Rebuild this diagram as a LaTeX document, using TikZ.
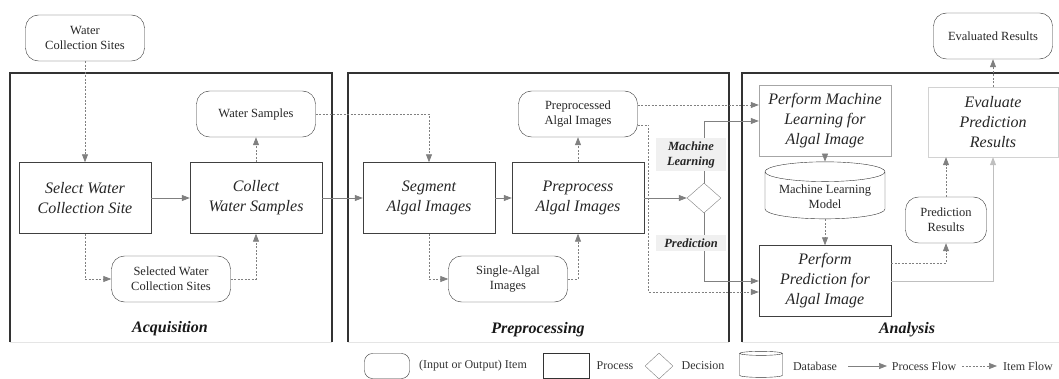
\documentclass[tikz,border=0pt]{standalone}
\usepackage{fontspec}
\setmainfont{Liberation Serif}
\usepackage{tikz}
\usetikzlibrary{arrows.meta, calc, positioning, shapes.geometric}

\tikzset{
  item/.style={draw=black!80, rounded corners=13pt, minimum width=119pt, minimum height=46pt, align=center, inner sep=1pt, font=\fontsize{12.5}{15}\selectfont, text=black!85},
  proc/.style={draw=black!75, minimum width=132pt, minimum height=71pt, align=center, font=\fontsize{16}{20}\selectfont\itshape, text=black!85},
  dbase/.style={draw=black!80, cylinder, shape border rotate=90, aspect=0.2, align=center, font=\fontsize{12.5}{15}\selectfont, text=black!85},
  decide/.style={draw=gray, diamond, inner sep=0pt},
  panel/.style={draw=black!80, line width=1.1pt},
  flow/.style={draw=gray, line width=0.7pt, -{Triangle[length=8pt,width=6pt]}},
  itemflow/.style={flow, dash pattern=on 2pt off 1.5pt},
  choice/.style={fill=gray!12, minimum width=70pt, align=center, font=\fontsize{12.5}{15}\selectfont\bfseries\itshape, text=black!85},
  phase/.style={font=\fontsize{16}{19}\selectfont\bfseries\itshape, text=black!90},
  legend/.style={font=\fontsize{12}{14}\selectfont, text=black!80}
}

\begin{document}
\begin{tikzpicture}[x=1pt,y=-1pt]
    \useasboundingbox (0,0) rectangle (1059,379);
    \draw[gray!20] (10,342) -- (332,342) (348,342) -- (729,342) (742,342) -- (1059,342); %下端
    \draw[panel] (10,342) |- (332,73) -- (332,342); %取得
    \draw[panel] (348,342) |- (729,73) -- (729,342); %前処理
    \draw[panel] (742,342) |- (1059,73); %分析

    \node[item] (wcs) at (85,38) {Water\\Collection Sites};
    \node[proc] (sel) at (85,198) {Select Water\\Collection Site};
    \node[proc] (col) at (256,198) {Collect\\Water Samples};
    \node[item] (ws) at (256,114) {Water Samples};
    \node[item] (ssites) at (171,279) {Selected Water\\Collection Sites};
    \node[phase] (acq) at (170,329) {Acquisition};

    \node[proc] (seg) at (429,198) {Segment\\Algal Images};
    \node[proc] (pre) at (578,198) {Preprocess\\Algal Images};
    \node[item] (paimg) at (578,114) {Preprocessed\\Algal Images};
    \node[item] (single) at (508,279) {Single-Algal\\Images};
    \node[decide, minimum width=34pt, minimum height=30pt] (dec) at (704,198) {};
    \node[phase] (prep) at (538,330) {Preprocessing};

    \node[proc, draw=gray!70] (pml) at (825,121) {Perform Machine\\Learning for\\Algal Image};
    \node[dbase, minimum width=120pt, minimum height=56pt] (model) at (825,197) {Machine Learning\\Model};
    \node[proc] (ppred) at (825,281) {Perform\\Prediction for\\Algal Image};
    \node[proc, draw=gray!35, minimum width=130pt, minimum height=70pt] (eval) at (993,122) {Evaluate\\Prediction\\Results};
    \node[item] (evres) at (993,36) {Evaluated Results};
    \node[item, minimum width=81pt] (pres) at (946,220) {Prediction\\Results};
    \node[phase] (ana) at (907,330) {Analysis};

    \path (paimg.east) ++(0,-9) coordinate (pa1) (paimg.east) ++(0,11) coordinate (pa2)
          (ppred.west) ++(0,11) coordinate (pp1) (ppred.east) ++(0,-18) coordinate (pp2);

    \draw[itemflow] (wcs) -- (sel);
    \draw[flow] (sel) -- (col);
    \draw[itemflow] (col) -- (ws);
    \draw[itemflow] (sel) |- (ssites);
    \draw[itemflow] (ssites) -| (col);
    \draw[itemflow] (ws) -| (seg);
    \draw[flow] (col) -- (seg);
    \draw[flow] (seg) -- (pre);
    \draw[itemflow] (seg) |- (single);
    \draw[itemflow] (single) -| (pre);
    \draw[itemflow] (pre) -- (paimg);
    \draw[flow] (pre) -- (dec);
    \draw[flow] (dec) |- (pml);
    \draw[flow] (dec) |- (ppred);
    \draw[itemflow] (pa1) -- (pa1 -| pml.west);
    \draw[itemflow] (pa2) -- ++(11,0) |- (pp1);
    \draw[itemflow] (pml) -- (model);
    \draw[itemflow] (model) -- (ppred);
    \draw[itemflow] (pp2) -| (pres);
    \draw[itemflow] (pres) -- (pres |- eval.south);
    \draw[flow, draw=gray!50] (ppred) -| (eval);
    \draw[itemflow] (eval) -- (evres);

    \node[choice] (mlab) at (691,155) {Machine\\Learning};
    \node[choice] (plab) at (691,243) {Prediction};

    \node[draw=black!80, rounded corners=8pt, minimum width=45pt, minimum height=25pt] (litem) at (387,366) {}; %凡例
    \node[legend] (litemt) at (473,366) {(Input or Output) Item};
    \node[draw=black!80, minimum width=46pt, minimum height=25pt] (lproc) at (566,366) {};
    \node[legend] (lproct) at (615,366) {Process};
    \node[decide, minimum width=28pt, minimum height=26pt] (ldec) at (659,366) {};
    \node[legend] (ldect) at (703,366) {Decision};
    \node[dbase, aspect=0.6, minimum width=43pt, minimum height=26pt] (ldb) at (761,366) {};
    \node[legend] (ldbt) at (815,366) {Database};
    \coordinate (lpf1) at (848,366);
    \coordinate (lpf2) at (887,366);
    \draw[flow] (lpf1) -- (lpf2);
    \node[legend] (lpft) at (924,366) {Process Flow};
    \coordinate (lif1) at (962,366);
    \coordinate (lif2) at (997,366);
    \draw[itemflow] (lif1) -- (lif2);
    \node[legend] (lift) at (1028,366) {Item Flow};
\end{tikzpicture}
\end{document}
